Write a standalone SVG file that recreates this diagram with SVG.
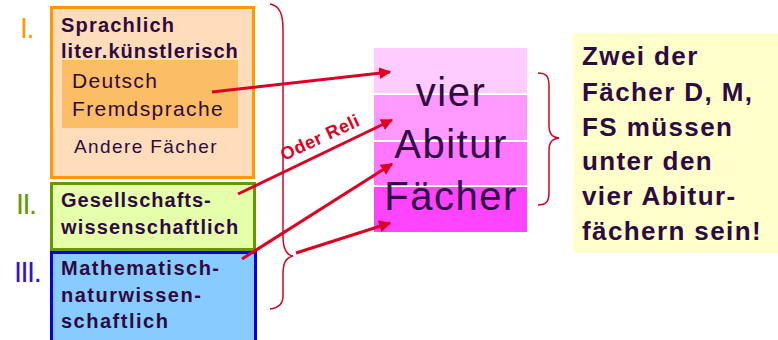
<svg xmlns="http://www.w3.org/2000/svg" width="778" height="340" viewBox="0 0 778 340">
<defs>
<marker id="ah" viewBox="0 0 10 10" refX="9" refY="5" markerWidth="4" markerHeight="4" orient="auto" markerUnits="strokeWidth">
<path d="M0,0 L10,5 L0,10 z" fill="#DD0022"/>
</marker>
<style>
text{font-family:"Liberation Sans",Arial,sans-serif;fill:#2E0A40}
.b{font-weight:bold}
.conn{stroke:#DD0022;stroke-width:3;fill:none}
.brace{stroke:#DD0022;stroke-width:1.5;fill:none}
.num{font-size:29px;letter-spacing:-1.5px}
</style>
</defs>
<rect width="778" height="340" fill="#FFFFFF"/>
<g id="label-I"><text x="20" y="38" class="num" style="fill:#FF9900">I.</text></g>
<g id="label-II"><text x="16" y="214" class="num" style="fill:#669900">II.</text></g>
<g id="label-III"><text x="14" y="282" class="num" style="fill:#3311CC">III.</text></g>
<g id="node-sprachlich">
<rect x="51.5" y="7.5" width="202" height="170" fill="#FFDDBB" stroke="#FF9900" stroke-width="3"/>
<rect x="62" y="60" width="176" height="68" fill="#FBBD66"/>
<text x="61" y="32" class="b" font-size="20" letter-spacing="1.2">Sprachlich</text>
<text x="61" y="58" class="b" font-size="20" letter-spacing="1.05">liter.künstlerisch</text>
<text x="72" y="88" font-size="21" letter-spacing="1.3">Deutsch</text>
<text x="72" y="116" font-size="21" letter-spacing="1.4">Fremdsprache</text>
<text x="74" y="153" font-size="19" letter-spacing="1.4">Andere Fächer</text>
</g>
<g id="node-gesellschaft">
<rect x="51.5" y="183.5" width="203" height="66" fill="#E6FFAA" stroke="#669900" stroke-width="3"/>
<text x="61" y="207" class="b" font-size="20" letter-spacing="1">Gesellschafts-</text>
<text x="61" y="234" class="b" font-size="20" letter-spacing="1.15">wissenschaftlich</text>
</g>
<g id="node-mathe">
<rect x="51.5" y="252.5" width="204" height="100" fill="#88CCFF" stroke="#0000EE" stroke-width="3"/>
<text x="61" y="275" class="b" font-size="20" letter-spacing="1.5">Mathematisch-</text>
<text x="61" y="302" class="b" font-size="20" letter-spacing="1.5">naturwissen-</text>
<text x="61" y="328" class="b" font-size="20" letter-spacing="1.5">schaftlich</text>
</g>
<g id="node-abitur">
<rect x="374" y="48" width="153" height="45" fill="#FFCCFF"/>
<rect x="374" y="95" width="153" height="45" fill="#FF99FF"/>
<rect x="374" y="142" width="153" height="43" fill="#FF77FF"/>
<rect x="374" y="187" width="153" height="45" fill="#FF44FF"/>
<text x="451" y="106" font-size="40" letter-spacing="1.5" text-anchor="middle">vier</text>
<text x="451" y="158" font-size="40" letter-spacing="1.5" text-anchor="middle">Abitur</text>
<text x="451" y="210" font-size="40" letter-spacing="1.5" text-anchor="middle">Fächer</text>
</g>
<g id="node-hinweis">
<rect x="573" y="33" width="210" height="220" fill="#FFFFCC"/>
<text class="b" font-size="26" letter-spacing="1.4">
<tspan x="582" y="65">Zwei der</tspan>
<tspan x="582" y="101">Fächer D, M,</tspan>
<tspan x="582" y="136">FS müssen</tspan>
<tspan x="582" y="170">unter den</tspan>
<tspan x="582" y="205">vier Abitur-</tspan>
<tspan x="582" y="240">fächern sein!</tspan>
</text>
</g>
<g id="connectors">
<path class="brace" d="M270,4 C280,6 283,14 283,30 L283,236 C283,248 286,255 293,256 C286,258 283,262 283,275 L283,296 C283,304 278,308 270,309"/>
<path class="brace" d="M538,73 C546,73 549,76 549,86 L549,125 C549,134 552,137 559,138 C552,139 549,142 549,151 L549,192 C549,202 546,205 538,205"/>
<line class="conn" x1="212" y1="92" x2="390" y2="72" marker-end="url(#ah)"/>
<line class="conn" x1="238" y1="194" x2="392" y2="120" marker-end="url(#ah)"/>
<line class="conn" x1="242" y1="259" x2="392" y2="164" marker-end="url(#ah)"/>
<line class="conn" x1="296" y1="253" x2="390" y2="223" marker-end="url(#ah)"/>
<text x="284" y="161" class="b" font-size="18" letter-spacing="0.6" transform="rotate(-25 284 161)" style="fill:#DD0022">Oder Reli</text>
</g>
</svg>
